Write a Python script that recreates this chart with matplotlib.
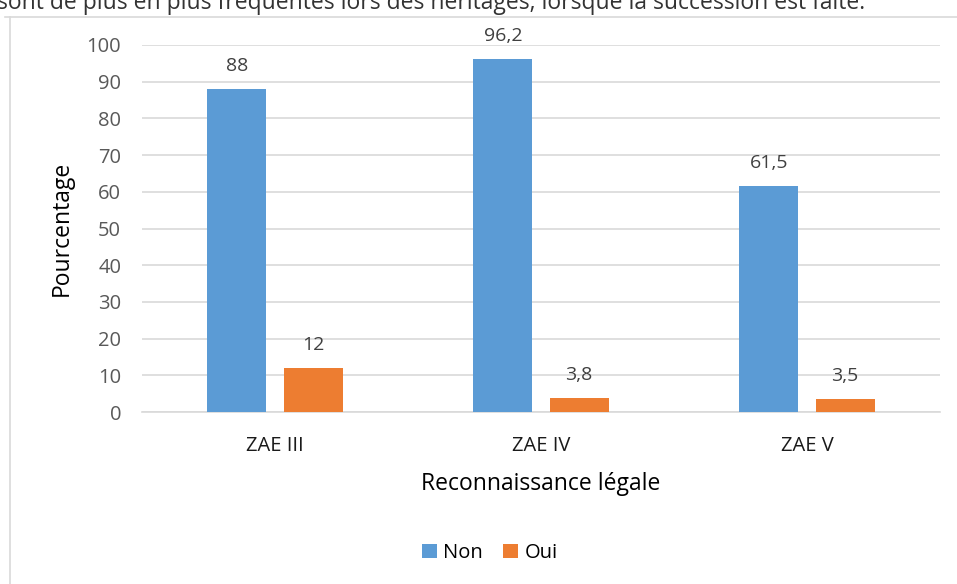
import matplotlib
matplotlib.use("Agg")
import matplotlib.pyplot as plt
import numpy as np
from matplotlib.lines import Line2D

plt.rcParams['font.family'] = ['Open Sans', 'DejaVu Sans']

categories = ['ZAE III', 'ZAE IV', 'ZAE V']
non_vals = [88, 96.2, 61.5]
oui_vals = [12, 3.8, 3.5]
non_labels = ['88', '96,2', '61,5']
oui_labels = ['12', '3,8', '3,5']
yticks = [0, 10, 20, 30, 40, 50, 60, 70, 80, 90, 100]

blue = '#5b9bd5'
orange = '#ed7d31'
grid = '#d9d9d9'
tick_col = '#595959'
lab_col = '#404040'

fig = plt.figure(figsize=(9.57, 5.84), dpi=100)
ax = fig.add_axes([142 / 957, 1 - 412 / 584, 798 / 957, 367 / 584])

x = np.arange(len(categories))
w = 0.222
off = 0.143
b1 = ax.bar(x - off, non_vals, w, color=blue, label='Non', zorder=3)
b2 = ax.bar(x + off, oui_vals, w, color=orange, label='Oui', zorder=3)

for bars, labs in ((b1, non_labels), (b2, oui_labels)):
    for r, t in zip(bars, labs):
        ax.annotate(t, (r.get_x() + r.get_width() / 2, r.get_height()),
                    xytext=(0, 13), textcoords='offset points',
                    ha='center', va='baseline', fontsize=14, color=lab_col)

ax.set_xlim(-0.5, 2.5)
ax.set_ylim(0, 100)
ax.set_yticks(yticks)
ax.set_xticks(x)
ax.set_xticklabels(categories)
ax.yaxis.grid(True, color=grid, linewidth=1.2, zorder=0)
for s in ('top', 'right', 'left'):
    ax.spines[s].set_visible(False)
ax.spines['bottom'].set_color(grid)
ax.spines['bottom'].set_linewidth(1.2)
ax.tick_params(axis='both', length=0, labelsize=14.5, labelcolor=tick_col)
ax.tick_params(axis='x', labelcolor='#1a1a1a', pad=17)
ax.tick_params(axis='y', pad=15)

ax.set_xlabel('Reconnaissance légale', fontsize=16.5, color='#000000', labelpad=12)
ax.set_ylabel('Pourcentage', fontsize=16.5, color='#000000', labelpad=9)

ax.legend(loc='center', bbox_to_anchor=(490 / 957, 1 - 553 / 584),
          bbox_transform=fig.transFigure, ncol=2, frameon=False,
          fontsize=14.5, handlelength=0.75, handleheight=0.75,
          columnspacing=1.0, handletextpad=0.3)

# chart area border (partially visible)
fig.add_artist(Line2D([5 / 957, 1], [1 - 17 / 584] * 2, color=grid, lw=1.2,
                      transform=fig.transFigure))
fig.add_artist(Line2D([10 / 957] * 2, [0, 1 - 17 / 584], color=grid, lw=1.2,
                      transform=fig.transFigure))

# cut-off text from the page above the chart
fig.text(-3 / 957, 1 - 9 / 584,
         'sont de plus en plus fréquentes lors des héritages, lorsque la succession est faite.',
         fontsize=16.5, color='#333333', ha='left', va='baseline')

fig.savefig('out.png', dpi=100)
